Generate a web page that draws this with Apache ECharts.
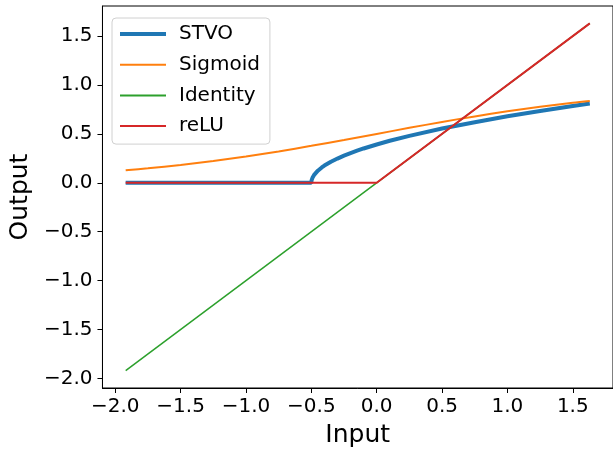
<!DOCTYPE html>
<html>
<head>
<meta charset="utf-8">
<script src="https://cdn.jsdelivr.net/npm/echarts@6/dist/echarts.min.js"></script>
<style>
html,body{margin:0;padding:0;background:#fff;}
#chart{width:613px;height:453px;}
</style>
</head>
<body>
<div id="chart"></div>
<script>
// Tick labels
const xTicks = [-2.0, -1.5, -1.0, -0.5, 0.0, 0.5, 1.0, 1.5];
const yTicks = [-2.0, -1.5, -1.0, -0.5, 0.0, 0.5, 1.0, 1.5];

// Series (x, y) values
const stvoX = [-1.92, -0.5, -0.498, -0.495, -0.49, -0.48, -0.47, -0.45, -0.42, -0.4, -0.35, -0.3, -0.25, -0.2, -0.15, -0.1, 0.0, 0.1, 0.25, 0.5, 0.75, 1.0, 1.25, 1.5, 1.63];
const stvoY = [0, 0, 0.025, 0.039, 0.055, 0.078, 0.096, 0.124, 0.157, 0.176, 0.215, 0.248, 0.278, 0.304, 0.328, 0.351, 0.392, 0.43, 0.48, 0.555, 0.62, 0.68, 0.734, 0.785, 0.81];

const sigX = [-1.92, -1.75, -1.5, -1.25, -1.0, -0.75, -0.5, -0.25, 0.0, 0.25, 0.5, 0.75, 1.0, 1.25, 1.5, 1.63];
const sigY = [0.128, 0.148, 0.182, 0.223, 0.269, 0.321, 0.378, 0.438, 0.50, 0.562, 0.622, 0.679, 0.731, 0.777, 0.818, 0.836];

const idX = [-1.92, 1.63];
const idY = [-1.92, 1.63];

const reluX = [-1.92, 0.0, 1.63];
const reluY = [0, 0, 1.63];

const zip = (xs, ys) => xs.map((x, i) => [x, ys[i]]);
const fmt = v => v.toFixed(1).replace('-', '\u2212');
const FONT = 'DejaVu Sans';

const chart = echarts.init(document.getElementById('chart'), null, {renderer: 'canvas'});
const option = {
  animation: false,
  backgroundColor: '#fff',
  textStyle: {fontFamily: FONT},
  grid: {left: 101, top: 6, width: 515, bottom: 62, show: true, borderColor: '#000', borderWidth: 1, containLabel: false},
  legend: {
    left: 112, top: 18,
    orient: 'vertical',
    itemWidth: 46, itemHeight: 20, itemGap: 10.7,
    padding: [6, 10, 8, 6],
    backgroundColor: 'rgba(255,255,255,0.8)',
    borderColor: '#d0d0d0', borderWidth: 1, borderRadius: 4,
    itemStyle: {opacity: 0},
    textStyle: {fontFamily: FONT, fontSize: 20, color: '#000', padding: [0, 0, 0, 8]},
    data: [
      {name: 'STVO', lineStyle: {width: 4}},
      {name: 'Sigmoid', lineStyle: {width: 2}},
      {name: 'Identity', lineStyle: {width: 2}},
      {name: 'reLU', lineStyle: {width: 2}}
    ]
  },
  xAxis: {
    type: 'value', min: -2.0975, max: 1.8075,
    name: 'Input', nameLocation: 'middle', nameGap: 35,
    nameTextStyle: {fontFamily: FONT, fontSize: 25, color: '#000'},
    axisLine: {show: true, onZero: false, lineStyle: {color: '#000', width: 1}},
    axisTick: {show: true, inside: false, length: 5, customValues: xTicks, lineStyle: {color: '#000', width: 1}},
    axisLabel: {show: true, margin: 9, customValues: xTicks, formatter: fmt, fontFamily: FONT, fontSize: 20, color: '#000'},
    splitLine: {show: false}
  },
  yAxis: {
    type: 'value', min: -2.0975, max: 1.8075,
    name: 'Output', nameLocation: 'middle', nameGap: 59, nameRotate: 90,
    nameTextStyle: {fontFamily: FONT, fontSize: 25, color: '#000'},
    axisLine: {show: true, onZero: false, lineStyle: {color: '#000', width: 1}},
    axisTick: {show: true, inside: false, length: 5, customValues: yTicks, lineStyle: {color: '#000', width: 1}},
    axisLabel: {show: true, margin: 10, customValues: yTicks, formatter: fmt, fontFamily: FONT, fontSize: 20, color: '#000'},
    splitLine: {show: false}
  },
  series: [
    {name: 'STVO', type: 'line', symbol: 'none', data: zip(stvoX, stvoY), color: '#1f77b4', lineStyle: {width: 4, color: '#1f77b4'}},
    {name: 'Sigmoid', type: 'line', symbol: 'none', smooth: 0.3, data: zip(sigX, sigY), color: '#ff7f0e', lineStyle: {width: 2, color: '#ff7f0e'}},
    {name: 'Identity', type: 'line', symbol: 'none', data: zip(idX, idY), color: '#2ca02c', lineStyle: {width: 1.5, color: '#2ca02c'}},
    {name: 'reLU', type: 'line', symbol: 'none', data: zip(reluX, reluY), color: '#d62728', lineStyle: {width: 2, color: '#d62728'}}
  ]
};
chart.setOption(option);
</script>
</body>
</html>
